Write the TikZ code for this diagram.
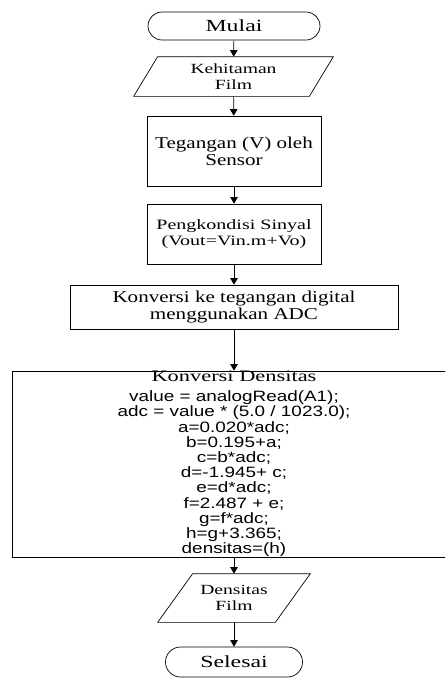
\documentclass[tikz,border=0pt]{standalone}
\usepackage{fontspec}
\setmainfont{Liberation Serif}[FakeStretch=1.27]
\newfontfamily\wideserif{Liberation Serif}[FakeStretch=1.4]
\newfontfamily\codefont{Liberation Sans}[FakeStretch=1.26]
\usetikzlibrary{shapes,arrows.meta,positioning}

\begin{document}
\begin{tikzpicture}[x=1pt, y=1pt, line width=0.7pt, >={Triangle[width=7.5pt,length=6.5pt]},
    term/.style={rounded rectangle, draw, inner sep=0pt, font=\wideserif\fontsize{17}{18}\selectfont},
    io/.style={rectangle, inner sep=0pt, align=center, font=\wideserif\fontsize{14}{15.5}\selectfont},
    proc/.style={rectangle, draw, inner sep=0pt, align=center}]
    \useasboundingbox (0,0) rectangle (445,-678);
    \clip (0,0) rectangle (445,-678);
    % Start and input
    \node[term, minimum width=172pt, minimum height=28pt] (mulai) at (234,-26) {Mulai};
    \node[io, minimum width=199pt, minimum height=39pt] (hitam) at (233.5,-76.5) {Kehitaman\\Film};
    \draw ([xshift=24pt]hitam.north west) -- (hitam.north east) -- ([xshift=-24pt]hitam.south east) -- (hitam.south west) -- cycle;

    % Processing steps
    \node[proc, minimum width=174pt, minimum height=70pt, font=\fontsize{16.6}{17}\selectfont] (sensor) at (234,-151) {Tegangan (V) oleh\\Sensor};
    \node[proc, minimum width=174pt, minimum height=60pt, font=\wideserif\fontsize{14.3}{16}\selectfont] (kondisi) at (234,-234) {Pengkondisi Sinyal\\(Vout=Vin.m+Vo)};
    \node[proc, minimum width=328pt, minimum height=44pt, font=\fontsize{16.6}{17}\selectfont] (adc) at (234,-307) {Konversi ke tegangan digital\\menggunakan ADC};
    \node[proc, minimum width=444pt, minimum height=186pt, font=\codefont\fontsize{15}{15.2}\selectfont] (densitas) at (234,-464)
        {{\wideserif\fontsize{16}{16}\selectfont Konversi Densitas}\\[4.8pt]
         value = analogRead(A1);\\
         adc = value * (5.0 / 1023.0);\\
         a=0.020*adc;\\
         b=0.195+a;\\
         c=b*adc;\\
         d=-1.945+ c;\\
         e=d*adc;\\
         f=2.487 + e;\\
         g=f*adc;\\
         h=g+3.365;\\
         densitas=(h)};

    % Output and end
    \node[io, minimum width=152pt, minimum height=48pt] (film) at (234,-598) {Densitas\\Film};
    \draw ([xshift=35pt]film.north west) -- (film.north east) -- ([xshift=-35pt]film.south east) -- (film.south west) -- cycle;
    \node[term, minimum width=137pt, minimum height=30pt] (selesai) at (234,-662) {Selesai};

    % Arrows
    \draw[->] (mulai) -- (hitam);
    \draw[->] (hitam) -- (sensor);
    \draw[->] (sensor) -- (kondisi);
    \draw[->] (kondisi) -- (adc);
    \draw[->] (adc) -- (densitas);
    \draw[->] (densitas) -- (film);
    \draw[->] (film) -- (selesai);
\end{tikzpicture}
\end{document}
